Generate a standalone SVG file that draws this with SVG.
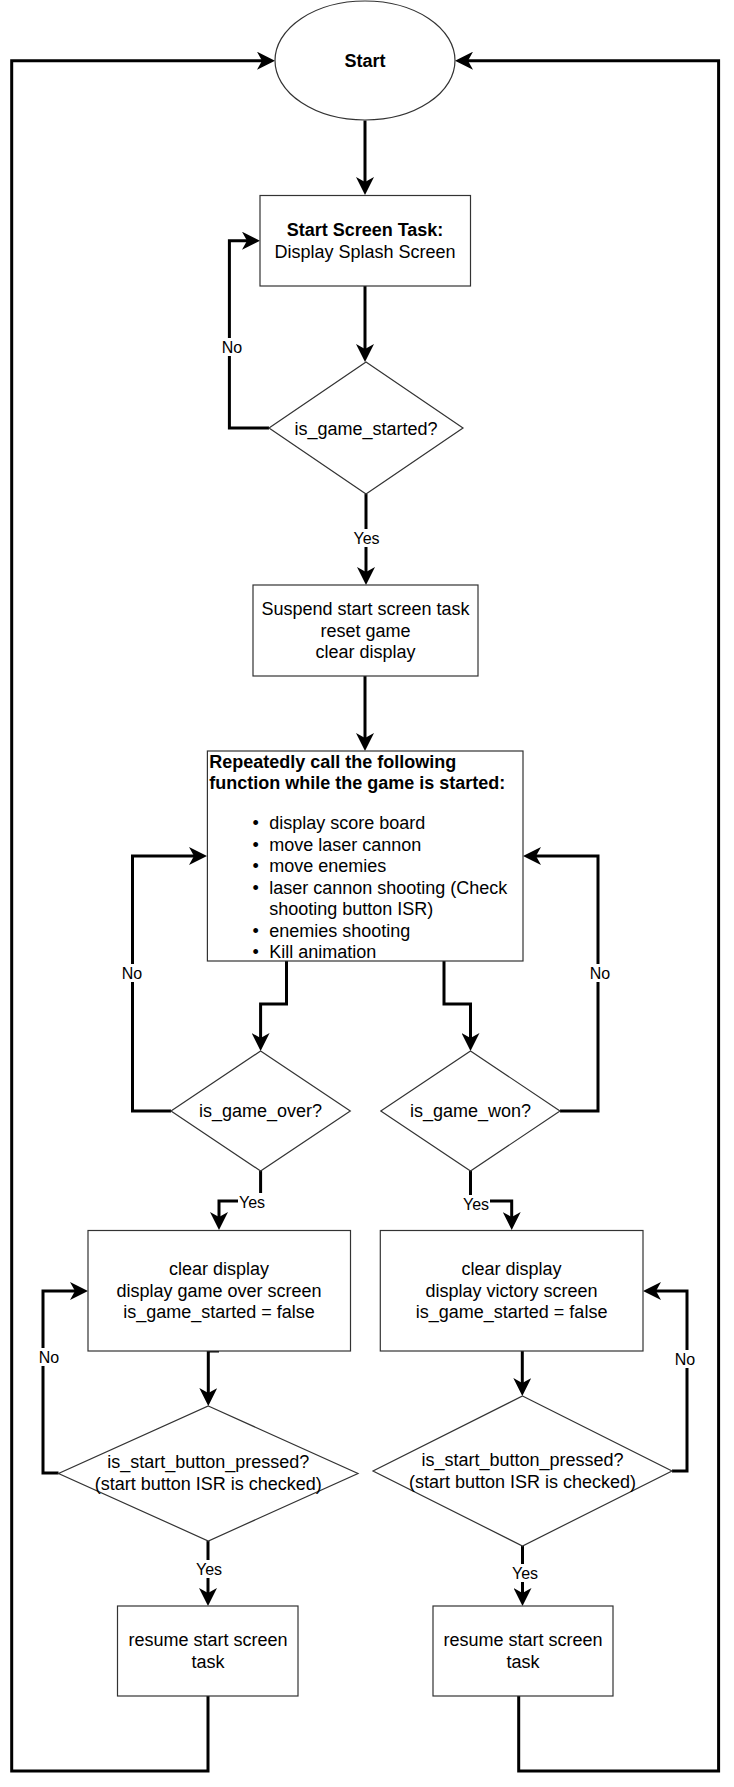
<svg xmlns="http://www.w3.org/2000/svg" width="734" height="1787" viewBox="0 0 734 1787">
<style>
.shape{fill:#fff;stroke:#333;stroke-width:1.2}
.t{font-family:"Liberation Sans",Arial,Helvetica,sans-serif;font-size:18px;fill:#000;text-anchor:middle}
.tl{font-family:"Liberation Sans",Arial,Helvetica,sans-serif;font-size:18px;fill:#000;text-anchor:start}
.b{font-weight:bold}
.edge{fill:none;stroke:#000;stroke-width:3;marker-end:url(#arr)}
.edgen{fill:none;stroke:#000;stroke-width:3}
.lbg{fill:#fff}
.lbl{font-family:"Liberation Sans",Arial,Helvetica,sans-serif;font-size:16px;fill:#000;text-anchor:middle}
</style>
<defs>
<marker id="arr" markerUnits="userSpaceOnUse" markerWidth="18" markerHeight="18" refX="5" refY="9" orient="auto" viewBox="0 0 18 18">
<path d="M0,0 L18,9 L0,18 L5,9 Z" fill="#000"/>
</marker>
</defs>
<rect width="734" height="1787" fill="#fff"/>
<g id="connectors">
<path class="edge" d="M365 120.5 V182"/>
<path class="edge" d="M365 286 V349"/>
<path class="edge" d="M269 428 H229.4 V240.7 H247"/>
<path class="edge" d="M366 494 V572"/>
<path class="edge" d="M365 676 V738"/>
<path class="edge" d="M286.5 961 V1004 H260.6 V1038"/>
<path class="edge" d="M444 961 V1004 H470.5 V1038"/>
<path class="edge" d="M171 1111 H132.5 V856 H194"/>
<path class="edge" d="M560 1111 H598 V856 H536"/>
<path class="edge" d="M260.6 1171 V1201 H219 V1217"/>
<path class="edge" d="M470.5 1171 V1201 H511.7 V1217"/>
<path class="edge" d="M219 1351 H208.3 V1393"/>
<path class="edge" d="M522.3 1351 V1383"/>
<path class="edge" d="M58.5 1473 H43 V1291 H75"/>
<path class="edge" d="M672 1471 H687 V1291 H656"/>
<path class="edge" d="M208 1541 V1593"/>
<path class="edge" d="M522.5 1546 V1593"/>
<path class="edge" d="M208 1696 V1771 H11.7 V60.7 H262"/>
<path class="edge" d="M518.7 1696 V1771 H718.6 V60.7 H468"/>
<g id="edge-labels">
<rect class="lbg" x="221" y="338" width="22" height="18"/>
<text class="lbl" x="232" y="353">No</text>
<rect class="lbg" x="352" y="529" width="29" height="18"/>
<text class="lbl" x="366.5" y="543.5">Yes</text>
<rect class="lbg" x="121" y="964" width="22" height="18"/>
<text class="lbl" x="132" y="979">No</text>
<rect class="lbg" x="589" y="964" width="22" height="18"/>
<text class="lbl" x="600" y="979">No</text>
<rect class="lbg" x="238" y="1193" width="28" height="18"/>
<text class="lbl" x="252" y="1207.5">Yes</text>
<rect class="lbg" x="462" y="1195" width="28" height="18"/>
<text class="lbl" x="476" y="1209.5">Yes</text>
<rect class="lbg" x="38" y="1348" width="22" height="18"/>
<text class="lbl" x="49" y="1363">No</text>
<rect class="lbg" x="674" y="1350" width="22" height="18"/>
<text class="lbl" x="685" y="1365">No</text>
<rect class="lbg" x="195" y="1560" width="28" height="18"/>
<text class="lbl" x="209" y="1574.5">Yes</text>
<rect class="lbg" x="511" y="1564" width="28" height="18"/>
<text class="lbl" x="525" y="1578.5">Yes</text>
</g>
</g>
<g id="start">
<ellipse class="shape" cx="365" cy="60.5" rx="90" ry="59.5"/>
<text class="t b" x="365" y="66.5">Start</text>
</g>
<g id="start-screen-task">
<rect class="shape" x="260" y="195.5" width="210.5" height="90.5"/>
<text class="t b" x="365" y="235.5">Start Screen Task:</text>
<text class="t" x="365" y="257.5">Display Splash Screen</text>
</g>
<g id="is-game-started">
<path class="shape" d="M366 362 L463 428 L366 494 L269 428 Z"/>
<text class="t" x="366" y="434.5">is_game_started?</text>
</g>
<g id="suspend">
<rect class="shape" x="253" y="585" width="225" height="91"/>
<text class="t" x="365.5" y="615">Suspend start screen task</text>
<text class="t" x="365.5" y="636.5">reset game</text>
<text class="t" x="365.5" y="658">clear display</text>
</g>
<g id="game-loop">
<rect class="shape" x="207.4" y="751" width="315.6" height="210"/>
<text class="tl b" x="209.3" y="768">Repeatedly call the following</text>
<text class="tl b" x="209.3" y="789">function while the game is started:</text>
<text class="tl" x="252.5" y="829">•</text>
<text class="tl" x="269.2" y="829">display score board</text>
<text class="tl" x="252.5" y="851">•</text>
<text class="tl" x="269.2" y="851">move laser cannon</text>
<text class="tl" x="252.5" y="872">•</text>
<text class="tl" x="269.2" y="872">move enemies</text>
<text class="tl" x="252.5" y="894">•</text>
<text class="tl" x="269.2" y="894">laser cannon shooting (Check</text>
<text class="tl" x="269.2" y="915">shooting button ISR)</text>
<text class="tl" x="252.5" y="937">•</text>
<text class="tl" x="269.2" y="937">enemies shooting</text>
<text class="tl" x="252.5" y="958">•</text>
<text class="tl" x="269.2" y="958">Kill animation</text>
</g>
<g id="is-game-over">
<path class="shape" d="M260.6 1051 L350.3 1111 L260.6 1171 L171 1111 Z"/>
<text class="t" x="260.6" y="1117">is_game_over?</text>
</g>
<g id="is-game-won">
<path class="shape" d="M470.5 1051 L560 1111 L470.5 1171 L380.8 1111 Z"/>
<text class="t" x="470.5" y="1117">is_game_won?</text>
</g>
<g id="game-over-screen">
<rect class="shape" x="88" y="1230.5" width="262.5" height="120.5"/>
<text class="t" x="219" y="1275">clear display</text>
<text class="t" x="219" y="1296.5">display game over screen</text>
<text class="t" x="219" y="1318">is_game_started = false</text>
</g>
<g id="victory-screen">
<rect class="shape" x="380.3" y="1230.5" width="262.7" height="120.5"/>
<text class="t" x="511.6" y="1275">clear display</text>
<text class="t" x="511.6" y="1296.5">display victory screen</text>
<text class="t" x="511.6" y="1318">is_game_started = false</text>
</g>
<g id="start-pressed-left">
<path class="shape" d="M208.3 1406 L358 1473.5 L208.3 1541 L58.5 1473.5 Z"/>
<text class="t" x="208.3" y="1468">is_start_button_pressed?</text>
<text class="t" x="208.3" y="1490">(start button ISR is checked)</text>
</g>
<g id="start-pressed-right">
<path class="shape" d="M522.5 1396 L672 1471 L522.5 1546 L373 1471 Z"/>
<text class="t" x="522.5" y="1466">is_start_button_pressed?</text>
<text class="t" x="522.5" y="1488">(start button ISR is checked)</text>
</g>
<g id="resume-left">
<rect class="shape" x="117.5" y="1606" width="180.5" height="90"/>
<text class="t" x="208" y="1646">resume start screen</text>
<text class="t" x="208" y="1667.5">task</text>
</g>
<g id="resume-right">
<rect class="shape" x="433" y="1606" width="180" height="90"/>
<text class="t" x="523" y="1646">resume start screen</text>
<text class="t" x="523" y="1667.5">task</text>
</g>
</svg>
